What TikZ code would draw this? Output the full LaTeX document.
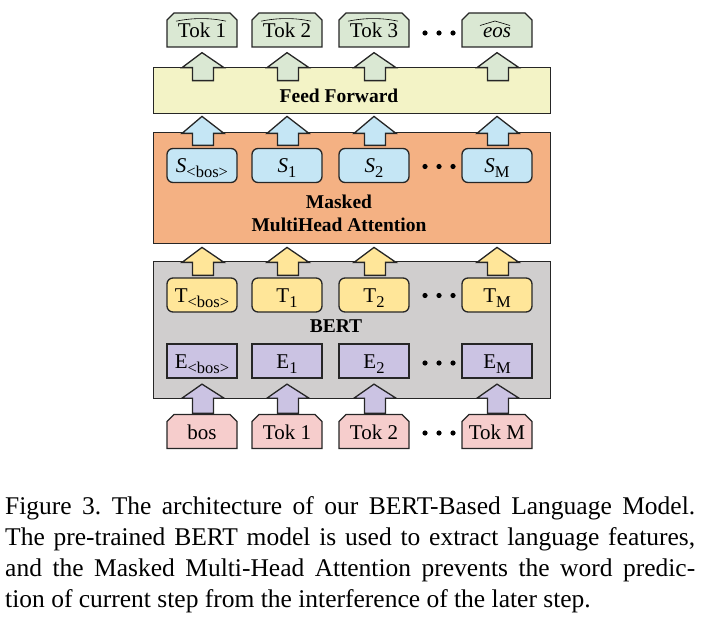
\documentclass[tikz,border=0pt]{standalone}
\usepackage{fontspec}
\setmainfont{Liberation Serif}
\usetikzlibrary{shapes.misc}
\definecolor{cGreen}{HTML}{DAE8D3}
\definecolor{cFF}{HTML}{F3F3C6}
\definecolor{cOrange}{HTML}{F4B183}
\definecolor{cBlue}{HTML}{C5E6F5}
\definecolor{cGray}{HTML}{D0CECE}
\definecolor{cYellow}{HTML}{FFE699}
\definecolor{cPurple}{HTML}{CBC3E3}
\definecolor{cPink}{HTML}{F6CDCC}
\definecolor{cLine}{HTML}{262626}
\newcommand\subt[1]{\raisebox{-5pt}{\fontsize{16.5}{16.5}\selectfont #1}}
\newcommand\blkarrow[4]{% fill, tip, head, shaft
  \filldraw[blk,fill=#1] #2 -- ++(22,#3) -- ++(-10.5,0) -- ++(0,#4) -- ++(-21,0) -- ++(0,-#4) -- ++(-10.5,0) -- cycle;}
\begin{document}
\frenchspacing
\begin{tikzpicture}[x=1pt,y=-1pt,
  big/.style={draw=cLine,line width=1.4pt,anchor=north west,inner sep=0pt,minimum width=397pt},
  biglbl/.style={font=\fontsize{19.5}{23}\selectfont\bfseries,inner sep=0pt,align=center},
  small/.style={draw=cLine,line width=1.3pt,minimum width=70pt,minimum height=34pt,inner sep=0pt,
     text height=16pt,text depth=1pt,font=\fontsize{21}{22}\selectfont},
  chamf/.style={small,chamfered rectangle,chamfered rectangle corners={north west,north east},
     chamfered rectangle xsep=3.5pt,chamfered rectangle ysep=3.5pt},
  rbox/.style={small,rounded corners=6pt},
  blk/.style={draw=cLine,line width=1.3pt,line join=miter},
  hatline/.style={draw=black,line width=0.6pt},
  capline/.style={anchor=base west,inner sep=0pt,font=\fontsize{25.5}{31}\selectfont}]
\useasboundingbox (0,0) rectangle (709,620);

% big boxes
\node[big,fill=cFF,minimum height=46pt] (ff) at (153,67) {};
\node[big,fill=cOrange,minimum height=111pt] (att) at (153,132) {};
\node[big,fill=cGray,minimum height=137pt] (bert) at (153,261) {};

% top outputs
\node[chamf,fill=cGreen,text height=17pt] (o1) at (202,30) {Tok 1};
\node[chamf,fill=cGreen,text height=17pt] (o2) at (287,30) {Tok 2};
\node[chamf,fill=cGreen,text height=17pt] (o3) at (374,30) {Tok 3};
\node[chamf,fill=cGreen,text height=17pt] (o4) at (497,30) {\itshape eos};

% S boxes
\node[rbox,fill=cBlue] (s0) at (202,165.5) {\itshape S\/\upshape\subt{<bos>}};
\node[rbox,fill=cBlue] (s1) at (287,165.5) {\itshape S\/\upshape\subt{1}};
\node[rbox,fill=cBlue] (s2) at (374,165.5) {\itshape S\/\upshape\subt{2}};
\node[rbox,fill=cBlue] (s3) at (497,165.5) {\itshape S\/\upshape\subt{M}};

% T boxes
\node[rbox,fill=cYellow] (t0) at (202,295) {T\subt{<bos>}};
\node[rbox,fill=cYellow] (t1) at (287,295) {T\subt{1}};
\node[rbox,fill=cYellow] (t2) at (374,295) {T\subt{2}};
\node[rbox,fill=cYellow] (t3) at (497,295) {T\subt{M}};

% E boxes
\node[small,fill=cPurple] (e0) at (202,361) {E\subt{<bos>}};
\node[small,fill=cPurple] (e1) at (287,361) {E\subt{1}};
\node[small,fill=cPurple] (e2) at (374,361) {E\subt{2}};
\node[small,fill=cPurple] (e3) at (497,361) {E\subt{M}};

% input tokens
\node[chamf,fill=cPink] (b0) at (202,431.5) {bos};
\node[chamf,fill=cPink] (b1) at (287,431.5) {Tok 1};
\node[chamf,fill=cPink] (b2) at (374,431.5) {Tok 2};
\node[chamf,fill=cPink] (b3) at (497,431.5) {Tok M};

% labels of big boxes
\node[biglbl,anchor=base] (fflbl) at (339,103) {Feed Forward};
\node[biglbl] (attlbl) at (339,213) {Masked\\MultiHead Attention};
\node[biglbl,anchor=base] (bertlbl) at (336,332) {BERT};

% block arrows
\foreach \n in {o1,o2,o3,o4}{\blkarrow{cGreen}{([yshift=-5pt]\n.south)}{15}{13}}
\foreach \n in {s0,s1,s2,s3}{\blkarrow{cBlue}{([yshift=-2pt]\n |- ff.south)}{17}{12}}
\foreach \n in {t0,t1,t2,t3}{\blkarrow{cYellow}{([yshift=-3pt]\n |- att.south)}{15}{13}}
\foreach \n in {e0,e1,e2,e3}{\blkarrow{cPurple}{([yshift=-5.5pt]\n.south)}{14}{15}}

% hats
\foreach \n in {o1,o2,o3}{
  \draw[hatline] ([xshift=-26pt,yshift=8.8pt]\n.center) .. controls ([xshift=-9pt,yshift=12.3pt]\n.center) and ([xshift=8pt,yshift=12.3pt]\n.center) .. ([xshift=24pt,yshift=8.8pt]\n.center);}
\draw[hatline] ([xshift=-17pt,yshift=4.5pt]o4.center) -- ([xshift=-2pt,yshift=9pt]o4.center) -- ([xshift=13pt,yshift=4.5pt]o4.center);

% ellipses
\foreach \y in {33,166.5,295.5,363,433}{
  \foreach \x in {425,439,453}{\fill[black] (\x,\y) circle (2.6pt);}}

% caption
\node[capline] (c1) at (5,514) {\makebox[690pt][s]{Figure 3. The architecture of our BERT-Based Language Model.}};
\node[capline] (c2) at (5,545) {\makebox[690pt][s]{The pre-trained BERT model is used to extract language features,}};
\node[capline] (c3) at (5,576) {\makebox[690pt][s]{and the Masked Multi-Head Attention prevents the word predic-}};
\node[capline] (c4) at (5,607) {tion of current step from the interference of the later step.};
\end{tikzpicture}
\end{document}
